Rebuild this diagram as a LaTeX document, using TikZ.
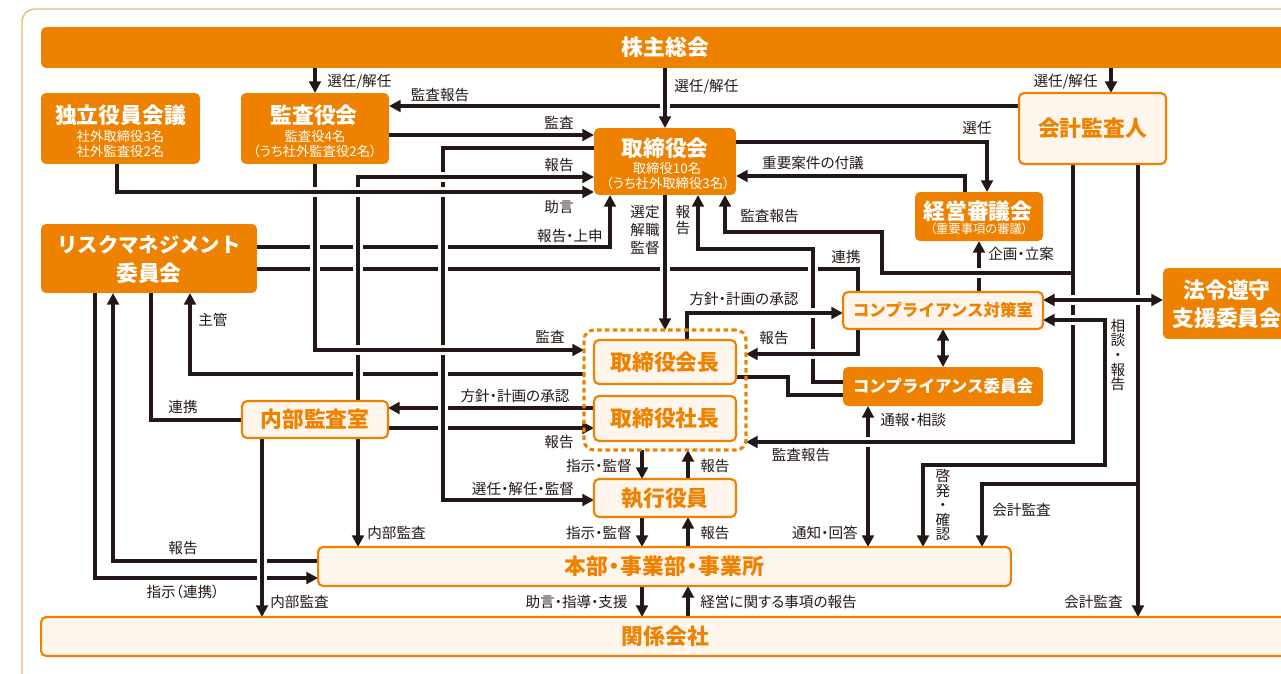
\documentclass[tikz,border=0pt]{standalone}
\usepackage{fontspec}
\setmainfont{Noto Sans CJK JP}[RawFeature=+palt]
\newfontfamily\ttlfont{Noto Sans CJK JP}
\usetikzlibrary{arrows.meta}
\pgfdeclarelayer{bg}
\pgfsetlayers{bg,main}
\definecolor{orgC}{HTML}{EE8200}
\definecolor{lightC}{HTML}{FEF5EC}
\definecolor{lineC}{HTML}{231815}
\definecolor{frameC}{HTML}{F5B573}
\tikzset{
  box/.style={rounded corners=0.1cm, inner sep=0pt, outer sep=0pt},
  obox/.style={box, fill=orgC, text=white},
  lbox/.style={box, draw=orgC, line width=1.2pt, fill=lightC, text=orgC},
  big/.style={font=\ttlfont\bfseries\fontsize{12.4}{14}\selectfont},
  mid/.style={font=\ttlfont\bfseries\fontsize{9.4}{11}\selectfont},
  sub/.style={font=\fontsize{7.6}{9}\selectfont, text=white, inner sep=0pt},
  lbl/.style={font=\fontsize{8.3}{9}\selectfont, text=lineC, inner sep=0pt},
  vlbl/.style={lbl, align=center, font=\fontsize{8.3}{10}\selectfont},
  ln/.style={draw=lineC, line width=1.85pt},
  arr/.style={ln, -{Triangle[length=6.6pt,width=6.6pt]}},
  darr/.style={ln, {Triangle[length=6.6pt,width=6.6pt]}-{Triangle[length=6.6pt,width=6.6pt]}},
  br/.style={preaction={draw=white, line width=5.6pt, -}}
}
\begin{document}
\begin{tikzpicture}[x=0.02cm, y=-0.02cm]
  \useasboundingbox (0,0) rectangle (1281,673);
  \clip (0,0) rectangle (1281,673);
  \draw[frameC, line width=0.8pt, rounded corners=0.25cm] (22,9) rectangle (1300,690);

  % boxes
  \node[obox, big, minimum width=24.98cm, minimum height=0.82cm] (kabu) at (665.5,47.5) {株主総会};
  \node[obox, minimum width=3.18cm, minimum height=1.42cm] (doku) at (120.5,128.5) {};
  \node[obox, minimum width=2.96cm, minimum height=1.42cm] (kansa) at (315,128.5) {};
  \node[obox, minimum width=2.84cm, minimum height=1.34cm] (tori) at (665,161.5) {};
  \node[lbox, big, minimum width=2.94cm, minimum height=1.42cm] (kaikei) at (1092.5,128.5) {会計監査人};
  \node[obox, minimum width=2.56cm, minimum height=0.98cm] (keiei) at (979,216.5) {};
  \node[obox, minimum width=4.32cm, minimum height=1.38cm] (risk) at (149,258.5) {};
  \node[obox, minimum width=2.56cm, minimum height=1.42cm] (hourei) at (1227,303.5) {};
  \node[lbox, mid, minimum width=4cm, minimum height=0.74cm] (csitsu) at (943,310.5) {コンプライアンス対策室};
  \node[obox, mid, minimum width=4cm, minimum height=0.78cm] (ciin) at (943,386.5) {コンプライアンス委員会};
  \node[lbox, big, minimum width=2.84cm, minimum height=0.88cm] (kaichou) at (665,362) {取締役会長};
  \node[lbox, big, minimum width=2.84cm, minimum height=0.9cm] (shachou) at (665,418.5) {取締役社長};
  \node[draw=orgC, line width=1.8pt, dash pattern=on 2.6pt off 1.9pt, rounded corners=0.2cm,
        inner sep=0pt, outer sep=0pt, minimum width=3.24cm, minimum height=2.4cm] (grp) at (665,390) {};
  \node[lbox, big, minimum width=2.84cm, minimum height=0.76cm] (shikkou) at (665,498) {執行役員};
  \node[lbox, big, minimum width=2.92cm, minimum height=0.74cm] (naibu) at (315,419.5) {内部監査室};
  \node[lbox, big, minimum width=13.86cm, minimum height=0.78cm] (honbu) at (664.5,566.5)
    {本部\kern-2.6pt・\kern-2.6pt事業部\kern-2.6pt・\kern-2.6pt事業所};
  \node[lbox, big, minimum width=24.98cm, minimum height=0.78cm] (kankei) at (665.5,636.5) {関係会社};

  % box texts
  \node[big, text=white, inner sep=0pt] (doku-t) at (120.5,115) {独立役員会議};
  \node[sub] (doku-s1) at (120.5,136) {社外取締役3名};
  \node[sub] (doku-s2) at (120.5,151) {社外監査役2名};
  \node[big, text=white, inner sep=0pt] (kansa-t) at (314,115) {監査役会};
  \node[sub] (kansa-s1) at (315,136) {監査役4名};
  \node[sub] (kansa-s2) at (315,151) {（うち社外監査役2名）};
  \node[big, text=white, inner sep=0pt] (tori-t) at (665,148) {取締役会};
  \node[sub] (tori-s1) at (667,168) {取締役10名};
  \node[sub] (tori-s2) at (668,183) {（うち社外取締役3名）};
  \node[big, text=white, inner sep=0pt] (keiei-t) at (978,211) {経営審議会};
  \node[sub, font=\fontsize{7}{8}\selectfont] (keiei-s) at (979,229) {（重要事項の審議）};
  \node[big, text=white, inner sep=0pt, font=\ttlfont\bfseries\fontsize{11.6}{13}\selectfont] (risk-t1) at (149,245) {リスクマネジメント};
  \node[big, text=white, inner sep=0pt] (risk-t2) at (149,273) {委員会};
  \node[big, text=white, inner sep=0pt] (hourei-t1) at (1227,290) {法令遵守};
  \node[big, text=white, inner sep=0pt] (hourei-t2) at (1227,318) {支援委員会};

  % labels
  \node[lbl, anchor=west] (l-sen1) at (327,82) {選任/解任};
  \node[lbl, anchor=west] (l-sen2) at (674,87) {選任/解任};
  \node[lbl, anchor=east] (l-sen3) at (1098,82) {選任/解任};
  \node[lbl] (l-kh1) at (440,95) {監査報告};
  \node[lbl] (l-ks1) at (559,123) {監査};
  \node[lbl] (l-hk1) at (559,165) {報告};
  \node[lbl] (l-jg) at (559,207) {助言};
  \node[lbl] (l-hj) at (570,236) {報告・上申};
  \node[lbl, align=center, font=\fontsize{8.3}{10.2}\selectfont] (l-sk) at (645,230) {選定\\解職\\監督};
  \node[lbl, align=center, font=\fontsize{8.3}{9.1}\selectfont] (l-hk2) at (683,220) {報\\告};
  \node[lbl, anchor=west] (l-kh2) at (740,216) {監査報告};
  \node[lbl] (l-sn) at (977,128) {選任};
  \node[lbl] (l-fg) at (813,163) {重要案件の付議};
  \node[lbl, anchor=west] (l-kr) at (988,254) {企画・立案};
  \node[lbl] (l-rk1) at (846,257) {連携};
  \node[lbl] (l-hs1) at (744,299) {方針・計画の承認};
  \node[lbl] (l-hk3) at (774,338) {報告};
  \node[lbl] (l-ks2) at (550,337) {監査};
  \node[lbl, anchor=west] (l-sk2) at (198,320) {主管};
  \node[lbl] (l-rk2) at (183,407) {連携};
  \node[lbl] (l-hs2) at (515,396) {方針・計画の承認};
  \node[lbl] (l-hk4) at (559,442) {報告};
  \node[lbl] (l-kh3) at (801,455) {監査報告};
  \node[lbl, anchor=west] (l-ts) at (880,420) {通報・相談};
  \node[vlbl] (l-sd) at (1118,355) {相\\[-1.7pt]談\\[-1.7pt]・\\[-1.7pt]報\\[-1.7pt]告};
  \node[vlbl] (l-kk) at (943,505) {啓\\[-1.7pt]発\\[-1.7pt]・\\[-1.7pt]確\\[-1.7pt]認};
  \node[lbl, anchor=west] (l-kk1) at (992,510) {会計監査};
  \node[lbl, anchor=east] (l-kk2) at (1123,602) {会計監査};
  \node[lbl, anchor=east] (l-sj1) at (632,466) {指示・監督};
  \node[lbl, anchor=west] (l-hk5) at (700,466) {報告};
  \node[lbl] (l-skk) at (523,489) {選任・解任・監督};
  \node[lbl, anchor=east] (l-sj2) at (632,533) {指示・監督};
  \node[lbl, anchor=west] (l-hk6) at (700,533) {報告};
  \node[lbl, anchor=east] (l-tk) at (858,533) {通知・回答};
  \node[lbl, anchor=west] (l-nb1) at (367,533) {内部監査};
  \node[lbl] (l-hk7) at (183,548) {報告};
  \node[lbl] (l-sj3) at (183,592) {指示（連携）};
  \node[lbl, anchor=west] (l-nb2) at (270,602) {内部監査};
  \node[lbl, anchor=east] (l-js) at (628,602) {助言・指導・支援};
  \node[lbl, anchor=west] (l-kj) at (700,602) {経営に関する事項の報告};

  % connectors
  \begin{pgfonlayer}{bg}
    \draw[arr] (kaikei.west |- 0,106) -- (kansa.east |- 0,106);
    \draw[arr] (risk.east |- 0,247) -| (tori.south -| 610,0);
    \draw[ln] (risk.east |- 0,269) -| (csitsu.north -| 858,0);
    \draw[arr] (grp.west |- 0,374) -| (risk.south -| 190,0);
    \draw[arr] (shachou.west |- 0,408) -- (naibu.east |- 0,408);
    \draw[arr] (naibu.east |- 0,428) -- (shachou.west |- 0,428);
    \draw[arr] (risk.south -| 95,0) |- (honbu.west |- 0,578);
    \draw[arr] (honbu.west |- 0,561) -| (risk.south -| 113,0);
    \draw[ln] (risk.south -| 151,0) |- (naibu.west |- 0,420);
    \draw[arr] (kabu.south -| kansa.north) -- (kansa.north);
    \draw[arr,br] (kabu.south -| tori.north) -- (tori.north);
    \draw[arr] (kabu.south -| 1111,0) -- (kaikei.north -| 1111,0);
    \draw[arr] (kansa.east |- 0,135) -- (tori.west |- 0,135);
    \draw[arr,br] (tori.west |- 0,148) -| (443,500) -- (shikkou.west |- 0,500);
    \draw[arr,br] (naibu.north -| 358,0) |- (tori.west |- 0,177);
    \draw[arr,br] (kansa.south) |- (grp.west |- 0,350);
    \draw[arr,br] (doku.south -| 117,0) |- (tori.west |- 0,192);
    \draw[arr] (naibu.south -| 358,0) -- (honbu.north -| 358,0);
    \draw[arr,br] (naibu.south -| 262,0) -- (kankei.north -| 262,0);
    \draw[arr,br] (tori.south) -- (grp.north);
    \draw[arr] (tori.east |- 0,142) -| (keiei.north -| 987,0);
    \draw[arr] (keiei.north -| 965,0) |- (tori.east |- 0,176);
    \draw[arr] (csitsu.north -| 979,0) -- (keiei.south -| 979,0);
    \draw[darr] (honbu.north -| 868,0) -- (ciin.south -| 868,0);
    \draw[arr,br] (kaikei.south -| 1073,0) |- (grp.east |- 0,442);
    \draw[arr,br] (kaikei.south -| 1073,0) |- (882,273) |- (725,232) -- (tori.south -| 725,0);
    \draw[ln] (kaikei.south -| 1073,0) -- (1073,442);
    \draw[arr,br] (ciin.west |- 0,382) -| (813,249) -| (tori.south -| 698,0);
    \draw[arr,br] (kaichou.north -| 687,0) |- (csitsu.west |- 0,313);
    \draw[arr,br] (csitsu.south -| 858,0) |- (grp.east |- 0,354);
    \draw[ln] (kaichou.east |- 0,377) -| (788,395) -- (ciin.west |- 0,395);
    \draw[darr] (csitsu.south) -- (ciin.north);
    \draw[arr] (kaikei.south -| 1138,0) -- (kankei.north -| 1138,0);
    \draw[arr] (1138,484) -| (honbu.north -| 982,0);
    \draw[darr,br] (csitsu.east |- 0,300) -- (hourei.west |- 0,300);
    \draw[darr,br] (honbu.north -| 923,0) |- (1105,465) |- (csitsu.east |- 0,320);
    % executive line
    \draw[arr] (grp.south -| 642,0) -- (shikkou.north -| 642,0);
    \draw[arr] (shikkou.north -| 688,0) -- (grp.south -| 688,0);
    \draw[arr] (shikkou.south -| 642,0) -- (honbu.north -| 642,0);
    \draw[arr] (honbu.north -| 688,0) -- (shikkou.south -| 688,0);
    \draw[arr] (honbu.south -| 642,0) -- (kankei.north -| 642,0);
    \draw[arr] (kankei.north -| 688,0) -- (honbu.south -| 688,0);
  \end{pgfonlayer}
\end{tikzpicture}
\end{document}
